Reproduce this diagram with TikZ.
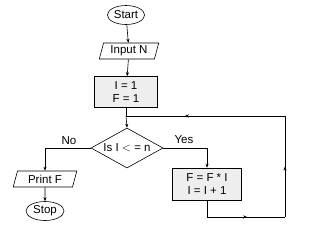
\documentclass[tikz,border=0pt]{standalone}
\usepackage{fontspec}
\setmainfont{Liberation Sans}
\usepackage{tikz}
\usetikzlibrary{shapes.geometric, arrows.meta, decorations.markings, calc}

\begin{document}
\begin{tikzpicture}[x=1pt, y=1pt,
    font=\fontsize{11.5}{13}\selectfont,
    line width=0.6pt,
    >={Stealth[length=4pt, width=3.2pt]},
    term/.style={draw, ellipse, inner sep=1pt, minimum height=19pt, align=center},
    io/.style={draw, trapezium, trapezium left angle=75, trapezium right angle=105,
               inner sep=1pt, minimum height=16pt, align=center},
    proc/.style={draw, fill=gray!13, minimum width=63pt, minimum height=31pt,
                 inner sep=1pt, align=center},
    dec/.style={draw, diamond, aspect=1.8, inner sep=0pt, minimum width=72pt,
                minimum height=40pt, align=center},
    midarr/.style={postaction={decorate, decoration={markings,
                   mark=at position #1 with {\arrow{>}}}}}
]
\useasboundingbox (0,0) rectangle (328,-236);

\node[term] (start) at (126,-15) {Start};
\node[io, minimum width=52pt] (input) at (129,-51) {Input N};
\node[proc] (init) at (126,-92) {I = 1\\F = 1};
\coordinate (merge) at (126,-116);
\node[dec] (test) at (127,-148) {Is I $<$ = n};
\node[io, minimum width=55pt] (print) at (45,-179) {Print F};
\node[term, minimum width=38pt] (stop) at (45,-211) {Stop};
\node[proc, minimum width=69pt, minimum height=32pt] (upd) at (207,-184) {F = F * I\\I = I + 1};

\coordinate (back1) at (207,-217);
\coordinate (back2) at (285,-217);
\coordinate (back3) at (285,-116);

% main flow
\draw[->] (start) -- (input);
\draw[->] (input) -- (init);
\draw (init.south) -- (merge);
\draw[->] (merge) -- (test.north);

% no branch
\draw[->] (test.west) -| (print.north);
\node at (69,-141) {No};
\draw[->] (print) -- (stop);

% yes branch and loop back
\draw[->] (test.east) -| (upd.north);
\node at (184,-140) {Yes};
\draw[midarr=0.6] (upd.south) |- (back2);
\draw[midarr=0.5] (back2) -- (back3);
\draw[midarr=0.63] (back3) -- (merge);
\end{tikzpicture}
\end{document}
